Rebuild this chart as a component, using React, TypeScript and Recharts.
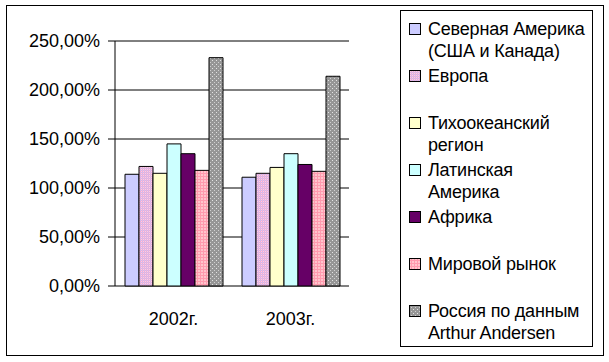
import React from 'react';
import { BarChart, Bar, XAxis, YAxis, CartesianGrid } from 'recharts';

const years = ['2002г.', '2003г.'];
const northAmerica = [114, 111];
const europe = [122, 115];
const pacific = [115, 121];
const latinAmerica = [145, 135];
const africa = [135, 124];
const worldMarket = [118, 117];
const russia = [233, 214];
const yTicks = [0, 50, 100, 150, 200, 250];
const boundaryTicks = [0, 1, 2];

const series = [
  { key: 'na', label: 'Северная Америка\n(США и Канада)', values: northAmerica, fill: '#CCCCFF' },
  { key: 'eu', label: 'Европа', values: europe, fill: 'url(#patEurope)' },
  { key: 'pac', label: 'Тихоокеанский\nрегион', values: pacific, fill: '#FFFFCC' },
  { key: 'lat', label: 'Латинская\nАмерика', values: latinAmerica, fill: '#CCFFFF' },
  { key: 'af', label: 'Африка', values: africa, fill: '#660066' },
  { key: 'wm', label: 'Мировой рынок', values: worldMarket, fill: 'url(#patWorld)' },
  { key: 'ru', label: 'Россия по данным\nArthur Andersen', values: russia, fill: 'url(#patRussia)' },
];

const data = years.map((year, i) => {
  const row: Record<string, string | number> = { year };
  series.forEach((s) => {
    row[s.key] = s.values[i];
  });
  return row;
});

const font = "'Liberation Sans', Arial, sans-serif";
const fmt = (v: number) => `${v.toFixed(2).replace('.', ',')}%`;

const App: React.FC = () => {
  return (
    <div style={{ position: 'absolute', left: 0, top: 0, width: 609, height: 362, background: '#fff', fontFamily: font }}>
      <div style={{ position: 'absolute', left: 6, top: 5, width: 598, height: 351, border: '1px solid #000', boxSizing: 'border-box' }} />
      <div style={{ position: 'absolute', left: 0, top: 0 }}>
        <BarChart
          width={609}
          height={362}
          data={data}
          margin={{ top: 41, right: 260, bottom: 30, left: 0 }}
          barGap={0}
          barSize={14}
        >
          <defs>
            <pattern id="patEurope" width="2" height="2" patternUnits="userSpaceOnUse">
              <rect width="2" height="2" fill="#F2A8D4" />
              <rect width="1" height="1" fill="#CCC4F4" />
              <rect x="1" y="1" width="1" height="1" fill="#F0D4EC" />
            </pattern>
            <pattern id="patWorld" width="3" height="3" patternUnits="userSpaceOnUse">
              <rect width="3" height="3" fill="#FF9AAE" />
              <rect width="2" height="2" fill="#FFC4CC" />
            </pattern>
            <pattern id="patRussia" width="4" height="4" patternUnits="userSpaceOnUse">
              <rect width="4" height="4" fill="#969696" />
              <rect width="1" height="1" fill="#E4E4E4" />
              <rect x="2" y="2" width="1" height="1" fill="#D0D0D0" />
            </pattern>
          </defs>
          <CartesianGrid vertical={false} stroke="#000" strokeOpacity={1} />
          <XAxis
            xAxisId="num"
            type="number"
            domain={[0, 2]}
            ticks={boundaryTicks}
            height={0}
            tickSize={7}
            tickFormatter={() => ''}
            axisLine={{ stroke: '#000' }}
            tickLine={{ stroke: '#000' }}
          />
          <XAxis
            xAxisId="cat"
            dataKey="year"
            height={46}
            axisLine={false}
            tickLine={false}
            tickMargin={20}
            tick={{ fontSize: 18, fill: '#000', fontFamily: font }}
          />
          <YAxis
            width={115}
            domain={[0, 250]}
            ticks={yTicks}
            tickFormatter={fmt}
            tickSize={7}
            tickMargin={8}
            axisLine={{ stroke: '#000' }}
            tickLine={{ stroke: '#000' }}
            tick={{ fontSize: 18, fill: '#000', fontFamily: font }}
          />
          {series.map((s) => (
            <Bar
              key={s.key}
              xAxisId="cat"
              dataKey={s.key}
              name={s.label}
              fill={s.fill}
              stroke="#000"
              strokeWidth={1}
              isAnimationActive={false}
            />
          ))}
        </BarChart>
      </div>
      <div
        style={{
          position: 'absolute',
          left: 400,
          top: 10,
          width: 193,
          height: 337,
          border: '1px solid #000',
          boxSizing: 'border-box',
          paddingTop: 7,
        }}
      >
        {series.map((s) => (
          <div key={s.key} style={{ position: 'relative', height: 47 }}>
            <svg width={12} height={12} style={{ position: 'absolute', left: 8, top: 5 }}>
              <rect x={0.5} y={0.5} width={11} height={11} fill={s.fill} stroke="#000" />
            </svg>
            <div
              style={{
                position: 'absolute',
                left: 27,
                top: 0,
                fontSize: 18,
                lineHeight: '22px',
                whiteSpace: 'pre',
                color: '#000',
                letterSpacing: -0.2,
              }}
            >
              {s.label}
            </div>
          </div>
        ))}
      </div>
    </div>
  );
};

export default App;
